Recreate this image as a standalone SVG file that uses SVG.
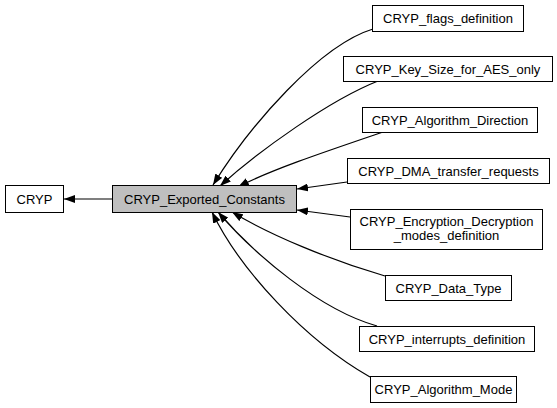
<svg xmlns="http://www.w3.org/2000/svg" width="557" height="408" viewBox="0 0 557 408">
<style>
.n rect{fill:#ffffff;stroke:#000000;stroke-width:1}
.n.cur rect{fill:#bfbfbf}
.n text{font-family:"Liberation Sans",Arial,sans-serif;font-size:13px;fill:#000000;text-anchor:middle}
.e path{fill:none;stroke:#000000;stroke-width:1.2;marker-end:url(#ah)}
</style>
<defs>
<marker id="ah" markerUnits="userSpaceOnUse" viewBox="0 0 11 8" refX="11" refY="4" markerWidth="11" markerHeight="8" orient="auto">
<path d="M0,0 L11,4 L0,8 Z" fill="#000000"/>
</marker>
</defs>
<rect width="557" height="408" fill="#ffffff"/>
<g id="edges" class="e">
<path d="M112,199 L64,199"/>
<path d="M373,29 C320,45 250,125 213,185"/>
<path d="M378,81 C330,100 260,150 220,186"/>
<path d="M383,132 C330,150 270,170 238,187"/>
<path d="M347,182 L297,189"/>
<path d="M350,217 L297,210"/>
<path d="M385,276 C330,260 270,235 232,212"/>
<path d="M377,326 C320,310 255,255 218,212"/>
<path d="M370,377 C305,340 240,270 212,212"/>
</g>
<g id="node_cryp" class="n"><rect x="5.5" y="185.5" width="58" height="27"/><text x="34.5" y="203.5">CRYP</text></g>
<g id="node_exported" class="n cur"><rect x="112.5" y="185.5" width="184" height="27"/><text x="204.5" y="203.5">CRYP_Exported_Constants</text></g>
<g id="node_flags" class="n"><rect x="372.5" y="5.5" width="151" height="26"/><text x="448" y="23">CRYP_flags_definition</text></g>
<g id="node_keysize" class="n"><rect x="343.5" y="56.5" width="209" height="25"/><text x="448" y="73.5">CRYP_Key_Size_for_AES_only</text></g>
<g id="node_dir" class="n"><rect x="362.5" y="107.5" width="175" height="25"/><text x="450" y="124.5">CRYP_Algorithm_Direction</text></g>
<g id="node_dma" class="n"><rect x="347.5" y="158.5" width="202" height="25"/><text x="448.5" y="175.5">CRYP_DMA_transfer_requests</text></g>
<g id="node_encdec" class="n"><rect x="350.5" y="209.5" width="192" height="40"/><text x="446.5" y="226">CRYP_Encryption_Decryption</text><text x="446.5" y="240">_modes_definition</text></g>
<g id="node_datatype" class="n"><rect x="385.5" y="275.5" width="126" height="25"/><text x="448.5" y="292.5">CRYP_Data_Type</text></g>
<g id="node_interrupts" class="n"><rect x="359.5" y="326.5" width="175" height="25"/><text x="447" y="343.5">CRYP_interrupts_definition</text></g>
<g id="node_mode" class="n"><rect x="370.5" y="376.5" width="146" height="26"/><text x="443.5" y="394">CRYP_Algorithm_Mode</text></g>
</svg>
